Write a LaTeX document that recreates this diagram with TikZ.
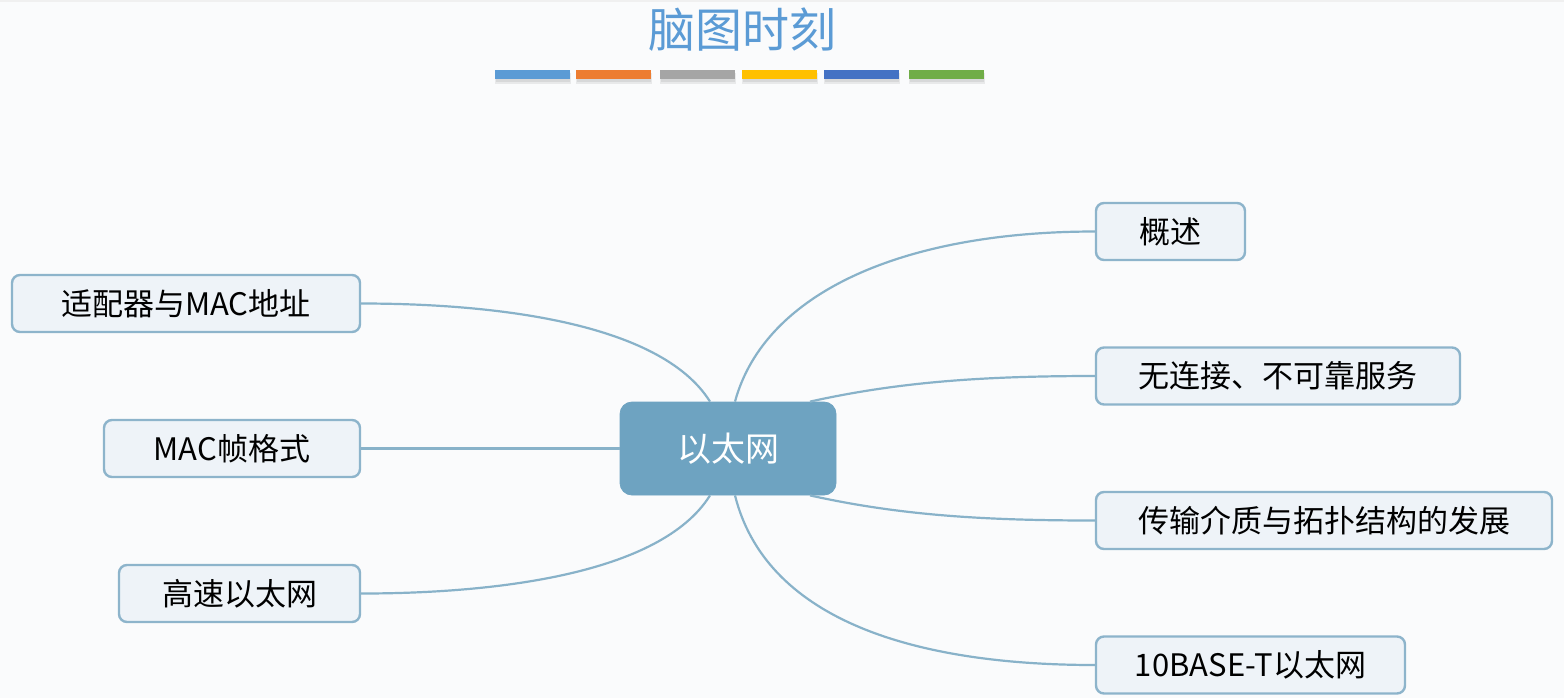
\documentclass[tikz,border=0pt]{standalone}
\usepackage{fontspec}
\setmainfont{Noto Sans CJK SC}
\usetikzlibrary{calc}
\definecolor{bg}{HTML}{FAFBFC}
\definecolor{ctr}{HTML}{6EA3C1}
\definecolor{boxfill}{HTML}{EEF3F8}
\definecolor{boxline}{HTML}{8DB4CB}
\definecolor{conn}{HTML}{88B2C9}
\definecolor{titlec}{HTML}{5B9BD5}
\definecolor{b1}{HTML}{5B9BD5}
\definecolor{b2}{HTML}{ED7D31}
\definecolor{b3}{HTML}{A5A5A5}
\definecolor{b4}{HTML}{FFC000}
\definecolor{b5}{HTML}{4472C4}
\definecolor{b6}{HTML}{70AD47}
\tikzset{
  topic/.style={draw=boxline, line width=1.2pt, fill=boxfill, rounded corners=4pt,
    minimum height=28.5pt, inner sep=0pt, font=\fontsize{15.5}{18}\selectfont, text=black},
  central/.style={fill=ctr, draw=ctr, rounded corners=6pt, minimum width=108pt, minimum height=46.5pt,
    font=\fontsize{17}{20}\selectfont, text=white},
  link/.style={draw=conn, line width=1.1pt},
  bar/.style={minimum width=37.5pt, minimum height=4.5pt, inner sep=0pt, draw=none},
  barshadow/.style={fill=black, fill opacity=0.07, draw=none}
}
\begin{document}
\begin{tikzpicture}[x=0.5pt,y=-0.5pt]
\fill[bg] (0,0) rectangle (1564,698);
\useasboundingbox (0,0) rectangle (1564,698);
\fill[gray!12] (0,0) rectangle (1564,2);
\node[text=titlec, font=\fontsize{23.5}{27}\selectfont] (title) at (742,30) {脑图时刻};
\foreach \xc in {532.5,613.5,697.5,779.5,861.5,946.5}{
  \fill[barshadow] (\xc-38,73) rectangle (\xc+38,84);
  \fill[barshadow] (\xc-37,75) rectangle (\xc+37,82);
}
\node[bar, fill=b1] (bar1) at (532.5,74.5) {};
\node[bar, fill=b2] (bar2) at (613.5,74.5) {};
\node[bar, fill=b3] (bar3) at (697.5,74.5) {};
\node[bar, fill=b4] (bar4) at (779.5,74.5) {};
\node[bar, fill=b5] (bar5) at (861.5,74.5) {};
\node[bar, fill=b6] (bar6) at (946.5,74.5) {};

\node[central] (c) at (728,448.5) {以太网};

\node[topic, minimum width=74.5pt] (r1) at (1170.5,231.5) {概述};
\node[topic, minimum width=182pt] (r2) at (1278,376) {无连接、不可靠服务};
\node[topic, minimum width=228pt] (r3) at (1324,520.5) {传输介质与拓扑结构的发展};
\node[topic, minimum width=154.5pt] (r4) at (1250.5,665) {10BASE-T以太网};
\node[topic, minimum width=174pt] (l1) at (186,303.5) {适配器与MAC地址};
\node[topic, minimum width=128pt] (l2) at (232,448.5) {MAC帧格式};
\node[topic, minimum width=120.5pt] (l3) at (239.5,593.5) {高速以太网};

\coordinate (cn1) at ($(c.north)+(7,0)$);
\coordinate (cn2) at ($(c.north)+(82,0)$);
\coordinate (cn3) at ($(c.north)+(-18,0)$);
\coordinate (cs1) at ($(c.south)+(7,0)$);
\coordinate (cs2) at ($(c.south)+(82,0)$);
\coordinate (cs3) at ($(c.south)+(-18,0)$);

\draw[link] (cn1) .. controls ($(cn1)+(30,-110)$) and ($(r1.west)+(-190,0)$) .. (r1.west);
\draw[link] (cn2) .. controls ($(cn2)+(90,-20)$) and ($(r2.west)+(-110,0)$) .. (r2.west);
\draw[link] (cs2) .. controls ($(cs2)+(90,20)$) and ($(r3.west)+(-110,0)$) .. (r3.west);
\draw[link] (cs1) .. controls ($(cs1)+(30,120)$) and ($(r4.west)+(-190,0)$) .. (r4.west);
\draw[link] (cn3) .. controls ($(cn3)+(-50,-80)$) and ($(l1.east)+(130,0)$) .. (l1.east);
\draw[link] (c.west) -- (l2.east);
\draw[link] (cs3) .. controls ($(cs3)+(-50,80)$) and ($(l3.east)+(130,0)$) .. (l3.east);
\end{tikzpicture}
\end{document}
